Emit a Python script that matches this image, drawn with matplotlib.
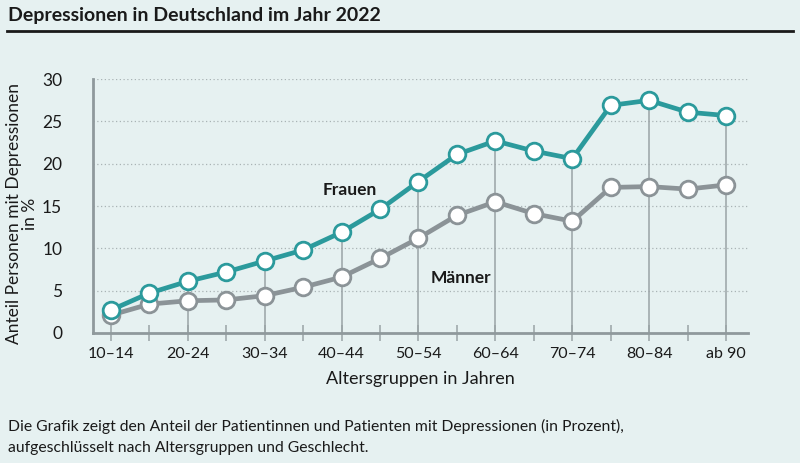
import matplotlib.pyplot as plt

# Altersgruppen und Anteile (in %)
altersgruppen = ['10–14', '15–19', '20-24', '25–29', '30–34', '35–39', '40–44', '45–49',
                 '50–54', '55–59', '60–64', '65–69', '70–74', '75–79', '80–84', '85–89', 'ab 90']
frauen = [2.7, 4.7, 6.1, 7.2, 8.5, 9.8, 11.9, 14.6, 17.9, 21.1, 22.7, 21.5, 20.6, 26.9, 27.5, 26.1, 25.7]
maenner = [2.1, 3.4, 3.8, 3.9, 4.4, 5.4, 6.6, 8.8, 11.2, 13.9, 15.5, 14.1, 13.2, 17.2, 17.3, 17.0, 17.5]
y_ticks = [0, 5, 10, 15, 20, 25, 30]

bg = '#e6f1f1'
teal = '#2b9a9c'
grau = '#8b9397'
achse = '#8f999c'
text = '#1a1a1a'

plt.rcParams['font.family'] = ['Lato', 'DejaVu Sans']

fig = plt.figure(figsize=(8, 4.63), dpi=100, facecolor=bg)
ax = fig.add_axes([0.116, 0.281, 0.819, 0.548], facecolor=bg)

x = list(range(len(altersgruppen)))

# gepunktete Hilfslinien
for v in y_ticks[1:]:
    ax.axhline(v, color='#a9b3b5', lw=0.9, ls=(0, (1, 2)), zorder=1)

# senkrechte Linien bei beschrifteten Gruppen
for i in x[2::2]:
    ax.plot([i, i], [0, frauen[i]], color='#9aa3a6', lw=1.1, zorder=2)

ax.plot(x, maenner, color=grau, lw=3.4, marker='o', ms=12, mfc='white',
        mec=grau, mew=2, zorder=3, clip_on=False)
ax.plot(x, frauen, color=teal, lw=3.4, marker='o', ms=12, mfc='white',
        mec=teal, mew=2, zorder=4, clip_on=False)

ax.text(6.2, 16.9, 'Frauen', fontsize=12.5, fontweight='bold', color=text, ha='center', va='center')
ax.text(9.1, 6.5, 'Männer', fontsize=12.5, fontweight='bold', color=text, ha='center', va='center')

ax.set_xlim(-0.47, 16.57)
ax.set_ylim(0, 30)
ax.set_yticks(y_ticks)
ax.set_xticks(x)
ax.set_xticklabels([lab if i % 2 == 0 else '' for i, lab in enumerate(altersgruppen)])

for s in ['top', 'right']:
    ax.spines[s].set_visible(False)
for s in ['left', 'bottom']:
    ax.spines[s].set_color(achse)
    ax.spines[s].set_linewidth(2)

ax.tick_params(axis='y', length=0, pad=22, labelsize=12.5, labelcolor=text)
ax.tick_params(axis='x', direction='inout', length=12, width=1.1, color='#9aa3a6',
               labelsize=11.5, labelcolor=text, pad=4)

ax.set_xlabel('Altersgruppen in Jahren', fontsize=13, color=text, labelpad=7)
ax.set_ylabel('Anteil Personen mit Depressionen\nin %', fontsize=12.5, color=text,
              linespacing=1.0)
ax.yaxis.set_label_coords(-0.084, 0.47)

fig.text(0.01, 0.966, 'Depressionen in Deutschland im Jahr 2022', fontsize=14,
         fontweight='bold', color=text, va='center')
fig.add_artist(plt.Line2D([0.009, 0.991], [0.934, 0.934], color=text, lw=2))

fig.text(0.01, 0.056, 'Die Grafik zeigt den Anteil der Patientinnen und Patienten mit Depressionen (in Prozent),\n'
         'aufgeschlüsselt nach Altersgruppen und Geschlecht.', fontsize=11.3, color=text,
         va='center', linespacing=1.6)

fig.savefig('out.png', dpi=100, facecolor=bg)
